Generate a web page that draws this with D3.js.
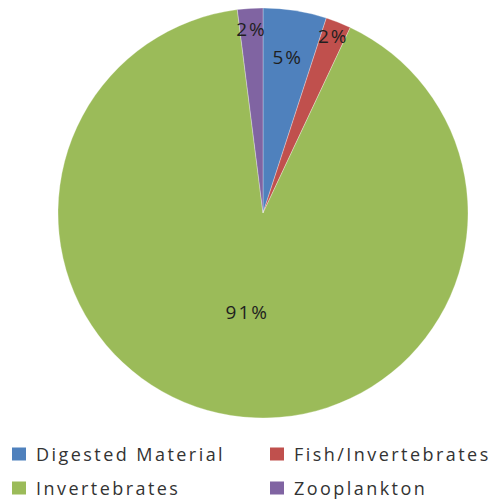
<!DOCTYPE html>
<html>
<head>
<meta charset="utf-8">
<script src="https://cdn.jsdelivr.net/npm/d3@7"></script>
<style>
  html, body { margin: 0; padding: 0; background: #ffffff; }
  svg { display: block; }
</style>
</head>
<body>
<svg id="chart" width="494" height="501"></svg>
<script>
// Diet composition (% of total)
const categories = ["Digested Material", "Fish/Invertebrates", "Invertebrates", "Zooplankton"];
const shares = [5, 2, 91, 2];
const colors = ["#4F81BD", "#C0504D", "#9BBB59", "#8064A2"];

// How far out (fraction of radius) each slice's percentage label sits
const labelRadius = { "Digested Material": 0.77, "Fish/Invertebrates": 0.93, "Invertebrates": 0.49, "Zooplankton": 0.90 };

const svg = d3.select("#chart");
const cx = 263, cy = 213, r = 205;

const data = categories.map((c, i) => ({ category: c, value: shares[i], color: colors[i] }));

const pie = d3.pie().value(d => d.value).sort(null);
const arcs = pie(data);
const arc = d3.arc().innerRadius(0).outerRadius(r);

const g = svg.append("g").attr("transform", `translate(${cx},${cy})`);

g.selectAll("path.slice")
  .data(arcs)
  .join("path")
  .attr("class", "slice")
  .attr("d", arc)
  .attr("fill", d => d.data.color)
  .attr("stroke", "#ffffff")
  .attr("stroke-width", 0.3);

const fmt = d3.format(".0%");
const total = d3.sum(shares);

g.selectAll("text.pct")
  .data(arcs)
  .join("text")
  .attr("class", "pct")
  .attr("transform", d => {
    const k = labelRadius[d.data.category] * r;
    const c = d3.arc().innerRadius(k).outerRadius(k).centroid(d);
    return `translate(${c[0]},${c[1]})`;
  })
  .attr("text-anchor", "middle")
  .attr("dominant-baseline", "central")
  .attr("font-family", "'Open Sans', sans-serif")
  .attr("font-size", 19)
  .attr("letter-spacing", 2)
  .attr("fill", "#1f1f1f")
  .text(d => fmt(d.data.value / total));

// Legend: two columns, two rows
const legendX = [12, 270];
const legendY = [454, 488];
const legend = svg.append("g");
data.forEach((d, i) => {
  const x = legendX[i % 2], y = legendY[Math.floor(i / 2)];
  legend.append("rect")
    .attr("x", x).attr("y", y - 6.5)
    .attr("width", 14).attr("height", 13)
    .attr("fill", d.color);
  legend.append("text")
    .attr("x", x + 24).attr("y", y)
    .attr("dominant-baseline", "central")
    .attr("font-family", "'Open Sans', sans-serif")
    .attr("font-size", 18)
    .attr("letter-spacing", 2.45)
    .attr("fill", "#333333")
    .text(d.category);
});
</script>
</body>
</html>
